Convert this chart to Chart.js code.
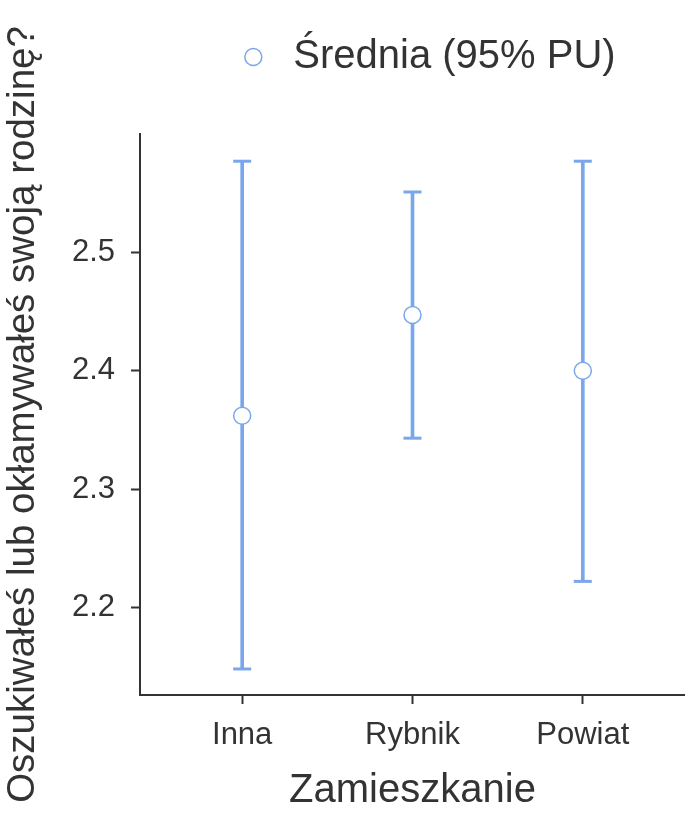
<!DOCTYPE html>
<html>
<head>
<meta charset="utf-8">
<script src="https://cdn.jsdelivr.net/npm/chart.js@4/dist/chart.umd.min.js"></script>
<style>
  html, body { margin: 0; padding: 0; background: #fff; overflow: hidden; }
  #wrap { width: 685px; height: 816px; position: relative; }
  canvas { display: block; }
</style>
</head>
<body>
<div id="wrap"><canvas id="chart"></canvas></div>
<script>
const categories = ['Inna', 'Rybnik', 'Powiat'];
const means = [2.362, 2.447, 2.400];
const lower = [2.148, 2.343, 2.222];
const upper = [2.577, 2.551, 2.577];
const yTicks = [2.2, 2.3, 2.4, 2.5];

const blue = '#7AA7EC';
const ink = '#333333';
const font = "'Liberation Sans', Arial, sans-serif";

const xs = categories.map((c, i) => i + 1);

// legend sits off-centre in the reference, nudge it to the right
const legendShift = {
  id: 'legendShift',
  beforeLayout(chart) {
    const lg = chart.legend;
    if (lg && !lg._fixed) {
      const fit = lg.fit.bind(lg);
      lg.fit = function () { fit(); this.height = 134; };
      lg._fixed = true;
    }
  },
  afterLayout(chart) {
    chart.legend.left += 82;
    chart.legend.right += 82;
  }
};

new Chart(document.getElementById('chart'), {
  data: {
    datasets: [
      {
        type: 'scatter',
        label: 'Średnia (95% PU)',
        data: xs.map((x, i) => ({ x: x, y: means[i] })),
        pointStyle: 'circle',
        pointRadius: 8.5,
        pointHoverRadius: 8.5,
        backgroundColor: '#ffffff',
        borderColor: blue,
        borderWidth: 1.5
      },
      {
        type: 'scatter',
        label: 'caps',
        data: xs.map((x, i) => ({ x: x, y: lower[i] }))
          .concat(xs.map((x, i) => ({ x: x, y: upper[i] }))),
        pointStyle: 'line',
        pointRadius: 9,
        pointHoverRadius: 9,
        borderColor: blue,
        borderWidth: 3
      },
      {
        type: 'bar',
        label: 'ci',
        data: xs.map((x, i) => ({ x: x, y: [lower[i], upper[i]] })),
        backgroundColor: blue,
        borderWidth: 0,
        barThickness: 3
      }
    ]
  },
  options: {
    responsive: true,
    maintainAspectRatio: false,
    animation: false,
    layout: { padding: 0, autoPadding: false },
    plugins: {
      tooltip: { enabled: false },
      legend: {
        display: true,
        position: 'top',
        labels: {
          usePointStyle: true,
          boxWidth: 40,
          boxHeight: 12,
          padding: 37,
          color: ink,
          font: { family: font, size: 40 },
          filter: item => item.datasetIndex === 0
        }
      }
    },
    scales: {
      x: {
        type: 'linear',
        min: 0.4,
        max: 3.6,
        offset: false,
        afterBuildTicks: scale => { scale.ticks = xs.map(v => ({ value: v })); },
        afterFit: scale => {
          scale.height = 121;
          scale.paddingLeft = 0;
          scale.paddingRight = 0;
        },
        ticks: {
          color: ink,
          padding: 13,
          maxRotation: 0,
          font: { family: font, size: 31 },
          callback: v => categories[v - 1]
        },
        grid: { offset: false, drawOnChartArea: false, drawTicks: true, tickLength: 9, tickColor: ink, tickWidth: 2 },
        border: { display: true, color: ink, width: 2 },
        title: {
          display: true,
          text: 'Zamieszkanie',
          color: ink,
          font: { family: font, size: 40 },
          padding: { top: 0, bottom: 1 }
        }
      },
      y: {
        min: 2.126,
        max: 2.6,
        afterBuildTicks: scale => { scale.ticks = yTicks.map(v => ({ value: v })); },
        afterFit: scale => {
          scale.width = 140;
          scale.paddingTop = 0;
          scale.paddingBottom = 0;
        },
        ticks: {
          color: ink,
          padding: 16,
          font: { family: font, size: 31 },
          callback: v => v.toFixed(1)
        },
        grid: { drawOnChartArea: false, drawTicks: true, tickLength: 9, tickColor: ink, tickWidth: 2 },
        border: { display: true, color: ink, width: 2 },
        title: {
          display: true,
          text: 'Oszukiwałeś lub okłamywałeś swoją rodzinę?',
          color: ink,
          font: { family: font, size: 38.5 },
          padding: { top: 0, bottom: 0 }
        }
      }
    }
  },
  plugins: [legendShift]
});
</script>
</body>
</html>
